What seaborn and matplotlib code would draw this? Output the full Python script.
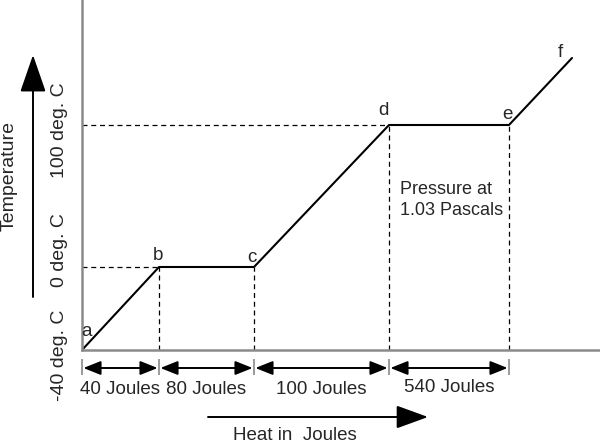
import matplotlib
matplotlib.use("Agg")
import matplotlib.pyplot as plt
import seaborn as sns
import pandas as pd

# Curva esquemática de calentamiento (unidades del dibujo)
heat = [0, 77, 172, 307, 427, 490]
temp = [0, 83, 83, 225, 225, 292]
point_labels = ["a", "b", "c", "d", "e", "f"]

temp_labels = ["-40 deg. C", "0 deg. C", "100 deg. C"]
temp_label_y = [-5, 100, 220]

segment_labels = ["40 Joules", "80 Joules", "100 Joules", "540 Joules"]


def main():
    sns.set_style("white")
    plt.rcParams['font.family'] = ['Liberation Sans', 'DejaVu Sans']

    df = pd.DataFrame({"heat": heat, "temp": temp})

    fig = plt.figure(figsize=(6, 4.43), dpi=100)
    ax = fig.add_axes([82 / 600, 93 / 443, 518 / 600, 350 / 443])

    sns.lineplot(data=df, x="heat", y="temp", color="black", linewidth=1.5, ax=ax)
    ax.set_xlim(0, 518)
    ax.set_ylim(0, 350)

    # Líneas punteadas de referencia
    dash = dict(color="black", linewidth=0.9, linestyle=(0, (4, 3)))
    ax.plot([0, heat[1]], [temp[1], temp[1]], **dash)
    ax.plot([0, heat[3]], [temp[3], temp[3]], **dash)
    for i in [1, 2, 3, 4]:
        ax.plot([heat[i], heat[i]], [0, temp[i]], **dash)

    # Letras de los puntos
    offsets = [(5, 10), (-1, 3), (-2, 1), (-6, 6), (-2, 2), (-12, -3)]
    for x, y, lab, (dx, dy) in zip(heat, temp, point_labels, offsets):
        ax.text(x + dx, y + dy, lab, fontsize=13.5, ha="center", va="bottom")

    ax.text(318, 150, "Pressure at\n1.03 Pascals", fontsize=13, ha="left", va="center",
            linespacing=1.35)

    # Ejes
    for side in ["top", "right"]:
        ax.spines[side].set_visible(False)
    for side in ["left", "bottom"]:
        ax.spines[side].set_color("#8a8a8a")
        ax.spines[side].set_linewidth(1.8)
    ax.set_xticks([])
    ax.set_yticks([])
    ax.set_xlabel("")
    ax.set_ylabel("")
    for lab, y in zip(temp_labels, temp_label_y):
        ax.text(-22, y, lab, fontsize=14, rotation=90, ha="center", va="center")

    # Flechas de cada tramo
    bounds = heat[:5]
    ax.vlines(bounds, -25, -9, color="#8a8a8a", linewidth=1.2, clip_on=False)
    for i, lab in enumerate(segment_labels):
        ax.annotate("", xy=(bounds[i + 1], -18), xytext=(bounds[i], -18),
                    arrowprops=dict(arrowstyle="<|-|>,head_length=0.7,head_width=0.28",
                                    mutation_scale=15, color="black", lw=1.4,
                                    shrinkA=1, shrinkB=1),
                    annotation_clip=False)
        ax.text((bounds[i] + bounds[i + 1]) / 2, -38 if i == 3 else -39, lab,
                fontsize=13.5, ha="center", va="center", clip_on=False)

    # Flecha de calor
    ax.annotate("", xy=(346, -67), xytext=(126, -67),
                arrowprops=dict(arrowstyle="-|>,head_length=1.1,head_width=0.4",
                                mutation_scale=18, color="black", lw=1.4,
                                shrinkA=0, shrinkB=0),
                annotation_clip=False)
    ax.text(213, -85, "Heat in  Joules", fontsize=13.5, ha="center", va="center")

    # Flecha de temperatura
    ax.annotate("", xy=(-49, 295), xytext=(-49, 53),
                arrowprops=dict(arrowstyle="-|>,head_length=1.3,head_width=0.45",
                                mutation_scale=18, color="black", lw=1.4,
                                shrinkA=0, shrinkB=0),
                annotation_clip=False)
    ax.text(-73, 174, "Temperature", fontsize=14, rotation=90, ha="center", va="center")

    fig.savefig("out.png", dpi=100)
    plt.close(fig)


if __name__ == "__main__":
    main()
